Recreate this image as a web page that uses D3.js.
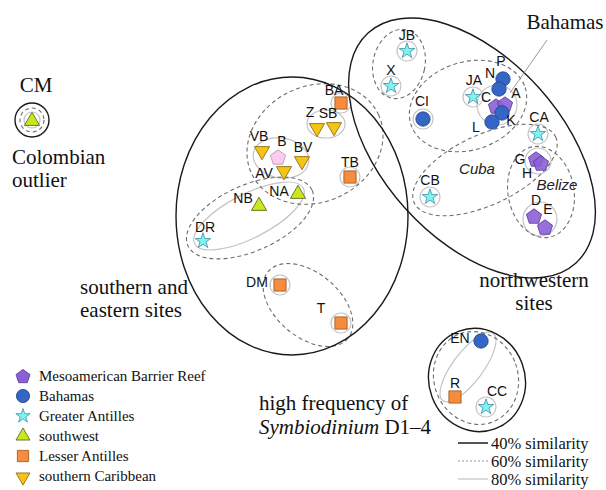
<!DOCTYPE html>
<html>
<head>
<meta charset="utf-8">
<script src="https://cdn.jsdelivr.net/npm/d3@7"></script>
<style>
  body { margin: 0; background: #fff; }
  svg { display: block; }
</style>
</head>
<body>
<div id="chart"></div>
<script>
// ordination coordinates (MDS1, MDS2)
const siteNames = ["JB","X","CI","JA","P","N","C","A","K","L","CA","G","H","D","E","CB",
                   "BA","Z","SB","VB","B","BV","AV","NA","NB","TB","DR","DM","T","CM","EN","R","CC"];
const siteX = [1.04,0.88,1.20,1.70,2.00,1.96,1.93,2.02,1.99,1.89,2.35,2.33,2.38,2.31,2.42,1.27,
               0.38,0.14,0.31,-0.41,-0.25,-0.01,-0.19,-0.05,-0.44,0.47,-1.00,-0.23,0.38,-2.71,1.78,1.52,1.83];
const siteY = [1.94,1.59,1.26,1.48,1.66,1.56,1.39,1.41,1.32,1.23,1.11,0.86,0.82,0.29,0.18,0.48,
               1.42,1.18,1.19,0.95,0.88,0.85,0.75,0.52,0.40,0.68,0.04,-0.40,-0.78,1.25,-0.96,-1.52,-1.62];
const siteRegion = ["GA","GA","BH","GA","BH","BH","MBR","MBR","BH","BH","GA","MBR","MBR","MBR","MBR","GA",
                    "LA","SC","SC","SC","OT","SC","SC","SW","SW","LA","GA","LA","LA","SW","BH","LA","GA"];

const regionKeys = ["MBR","BH","GA","SW","LA","SC"];
const regionLabels = ["Mesoamerican Barrier Reef","Bahamas","Greater Antilles","southwest","Lesser Antilles","southern Caribbean"];

// similarity clusters: centre x, centre y, radius x, radius y, angle
const clusters40 = [
  [-0.11, 0.29, 1.16, 1.39, 0],
  [1.69, 0.97, 1.55, 0.90, 48],
  [1.74, -1.35, 0.48, 0.52, -20],
  [-2.71, 1.25, 0.17, 0.17, 0]
];
const clusters60 = [
  [0.96, 1.81, 0.26, 0.35, 12],
  [1.65, 1.39, 0.60, 0.44, -18],
  [1.82, 0.75, 0.78, 0.35, -25],
  [2.38, 0.53, 0.33, 0.46, -10],
  [0.12, 1.01, 0.70, 0.58, -25],
  [-0.53, 0.27, 0.68, 0.33, -24],
  [0.05, -0.60, 0.52, 0.32, 40],
  [1.73, -1.33, 0.42, 0.47, -20],
  [-2.71, 1.25, 0.12, 0.12, 0]
];
const clusters80 = [
  [-0.22, 0.87, 0.28, 0.20, 10],
  [0.23, 1.21, 0.19, 0.14, 0],
  [-0.54, 0.29, 0.61, 0.22, -27],
  [1.94, 1.40, 0.20, 0.20, 0],
  [2.35, 0.84, 0.13, 0.13, 0],
  [2.37, 0.26, 0.17, 0.17, 0],
  [1.65, -1.22, 0.42, 0.15, -53],
  [-2.71, 1.25, 0.08, 0.08, 0]
];
// single sites enclosed on their own at 80%
const singles80 = ["JB","X","CI","JA","CA","CB","BA","TB","DM","T","CC"];

const similarityLabels = ["40% similarity","60% similarity","80% similarity"];

const width = 606, height = 490;

const svg = d3.select("#chart").append("svg")
    .attr("width", width)
    .attr("height", height)
    .style("font-family", "'Liberation Sans', Arial, sans-serif");

const x = d3.scaleLinear().domain([-3.03, 3.03]).range([0, width]);
const y = d3.scaleLinear().domain([-2.45, 2.45]).range([height, 0]);
const kx = x(1) - x(0), ky = y(0) - y(1);

const sites = siteNames.map((n, i) => ({name: n, x: siteX[i], y: siteY[i], region: siteRegion[i]}));
const byName = {};
sites.forEach(d => byName[d.name] = d);

const lineStyle = {
  40: {stroke: "#1a1a1a", width: 1.4, dash: null},
  60: {stroke: "#6e6e6e", width: 1.1, dash: "4,3"},
  80: {stroke: "#c4c4c4", width: 1.2, dash: null}
};

function drawEllipses(list, level) {
    let st = lineStyle[level];
    svg.append("g").selectAll("ellipse")
        .data(list)
        .join("ellipse")
        .attr("transform", d => `translate(${x(d[0])},${y(d[1])}) rotate(${d[4]})`)
        .attr("rx", d => d[2] * kx)
        .attr("ry", d => d[3] * ky)
        .attr("fill", "none")
        .attr("stroke", st.stroke)
        .attr("stroke-width", st.width)
        .attr("stroke-dasharray", st.dash);
}

drawEllipses(singles80.map(n => [byName[n].x, byName[n].y, 0.10, 0.10, 0]), 80);
drawEllipses(clusters80, 80);
drawEllipses(clusters60, 60);
drawEllipses(clusters40, 40);

// leader line to Bahamas cluster
svg.append("line")
    .attr("x1", x(2.44)).attr("y1", y(2.05))
    .attr("x2", x(2.07)).attr("y2", y(1.52))
    .attr("stroke", "#9a9a9a").attr("stroke-width", 1);

// markers
const style = {
  MBR: {fill: "#8c5fd6", stroke: "#55369a", shape: "pentagon", size: 8},
  BH:  {fill: "#3566c6", stroke: "#1f3f86", shape: "circle", size: 7.2},
  GA:  {fill: "#7ff3f0", stroke: "#3d8fa8", shape: "star", size: 75},
  SW:  {fill: "#c9e81e", stroke: "#4d5a18", shape: "up", size: 100},
  LA:  {fill: "#f58c3e", stroke: "#9b5520", shape: "square", size: 150},
  SC:  {fill: "#f6c414", stroke: "#7c6208", shape: "down", size: 100},
  OT:  {fill: "#f9cdec", stroke: "#b290b0", shape: "pentagon", size: 8}
};

function pentagon(r) {
    let pts = d3.range(5).map(i => {
        let a = -Math.PI / 2 + i * 2 * Math.PI / 5;
        return [r * Math.cos(a), r * Math.sin(a) + r * 0.1];
    });
    return "M" + pts.join("L") + "Z";
}

function markerPath(st, scale) {
    scale = scale || 1;
    if (st.shape == "pentagon") return pentagon(st.size * scale);
    if (st.shape == "circle") return d3.symbol(d3.symbolCircle, Math.PI * Math.pow(st.size * scale, 2))();
    if (st.shape == "star") return d3.symbol(d3.symbolStar, st.size * scale * scale)();
    if (st.shape == "square") return d3.symbol(d3.symbolSquare, st.size * scale * scale)();
    return d3.symbol(d3.symbolTriangle, st.size * scale * scale)();
}

svg.append("g").selectAll("path")
    .data(sites)
    .join("path")
    .attr("transform", d => {
        let st = style[d.region];
        let t = `translate(${x(d.x)},${y(d.y)})`;
        if (st.shape == "down") t += " rotate(180) translate(0,-1)";
        if (st.shape == "up") t += " translate(0,1)";
        return t;
    })
    .attr("d", d => markerPath(style[d.region]))
    .attr("fill", d => style[d.region].fill)
    .attr("fill-opacity", d => d.region == "MBR" ? 0.9 : 1)
    .attr("stroke", d => style[d.region].stroke)
    .attr("stroke-width", 0.8);

// site label offsets in pixels
const labelOffset = {
  JB: [0,-16], X: [0,-16], CI: [-1,-18], JA: [1,-17], P: [-2,-18], N: [-9,-16], C: [-10,-9],
  A: [11,-11], K: [9,7], L: [-16,5], CA: [1,-17], G: [-16,0], H: [-14,10], D: [2,-16], E: [3,-18],
  CB: [0,-17], BA: [-7,-13], Z: [-7,-15], SB: [-6,-13], VB: [-3,-14], B: [4,-16], BV: [1,-13],
  AV: [-20,3], NA: [-19,-2], NB: [-16,-7], TB: [0,-15], DR: [2,-14], DM: [-23,-3], T: [-20,-15],
  EN: [-21,-3], R: [0,-14], CC: [11,-16]
};

svg.append("g").selectAll("text")
    .data(sites.filter(d => d.name != "CM"))
    .join("text")
    .attr("x", d => x(d.x) + labelOffset[d.name][0])
    .attr("y", d => y(d.y) + labelOffset[d.name][1])
    .attr("text-anchor", "middle")
    .attr("dominant-baseline", "central")
    .attr("font-size", 14)
    .attr("fill", "#111")
    .text(d => d.name);

// italic cluster names
svg.append("text").attr("x", x(1.74)).attr("y", y(0.77))
    .attr("text-anchor", "middle").attr("dominant-baseline", "central")
    .attr("font-size", 15).attr("font-style", "italic").attr("fill", "#222").text("Cuba");
svg.append("text").attr("x", x(2.54)).attr("y", y(0.61))
    .attr("text-anchor", "middle").attr("dominant-baseline", "central")
    .attr("font-size", 15).attr("font-style", "italic").attr("fill", "#222").text("Belize");

// serif annotations
const serif = "'Liberation Serif', 'Times New Roman', serif";
function note(tx, ty, lines, anchor) {
    let t = svg.append("text")
        .attr("font-family", serif)
        .attr("font-size", 21)
        .attr("fill", "#111")
        .attr("text-anchor", anchor || "start");
    lines.forEach((l, i) => {
        t.append("tspan").attr("x", tx).attr("y", ty + i * 23).text(l);
    });
    return t;
}
note(36, 92, ["CM"], "middle");
note(12, 164, ["Colombian", "outlier"]);
note(80, 294, ["southern and", "eastern sites"]);
note(534, 287, ["northwestern", "sites"], "middle");
note(565, 29, ["Bahamas"], "middle");

let hf = svg.append("text").attr("font-family", serif).attr("font-size", 21).attr("fill", "#111");
hf.append("tspan").attr("x", 259).attr("y", 410).text("high frequency of");
hf.append("tspan").attr("x", 259).attr("y", 434).attr("font-style", "italic").text("Symbiodinium");
hf.append("tspan").text(" D1–4");

// region legend
const legend = svg.append("g").attr("transform", "translate(23,376)");
regionKeys.forEach((k, i) => {
    let g = legend.append("g").attr("transform", `translate(0,${i * 20})`);
    let st = style[k];
    let t = "";
    if (st.shape == "down") t = "rotate(180) translate(0,-1)";
    g.append("path")
        .attr("transform", t)
        .attr("d", markerPath(st, 0.92))
        .attr("fill", st.fill)
        .attr("stroke", st.stroke)
        .attr("stroke-width", 0.8);
    g.append("text")
        .attr("x", 16)
        .attr("y", 0)
        .attr("dominant-baseline", "central")
        .attr("font-family", serif)
        .attr("font-size", 15)
        .attr("fill", "#111")
        .text(regionLabels[i]);
});

// similarity legend
const simStyle = [
  {stroke: "#555", width: 2, dash: null},
  {stroke: "#999", width: 1.2, dash: "2,2"},
  {stroke: "#cfcfcf", width: 1.5, dash: null}
];
const simLegend = svg.append("g").attr("transform", "translate(458,443)");
similarityLabels.forEach((l, i) => {
    let g = simLegend.append("g").attr("transform", `translate(0,${i * 18})`);
    g.append("line")
        .attr("x1", 0).attr("x2", 30)
        .attr("stroke", simStyle[i].stroke)
        .attr("stroke-width", simStyle[i].width)
        .attr("stroke-dasharray", simStyle[i].dash);
    g.append("text")
        .attr("x", 33)
        .attr("y", 0)
        .attr("dominant-baseline", "central")
        .attr("font-family", serif)
        .attr("font-size", 16.5)
        .attr("fill", "#111")
        .text(l);
});
</script>
</body>
</html>
